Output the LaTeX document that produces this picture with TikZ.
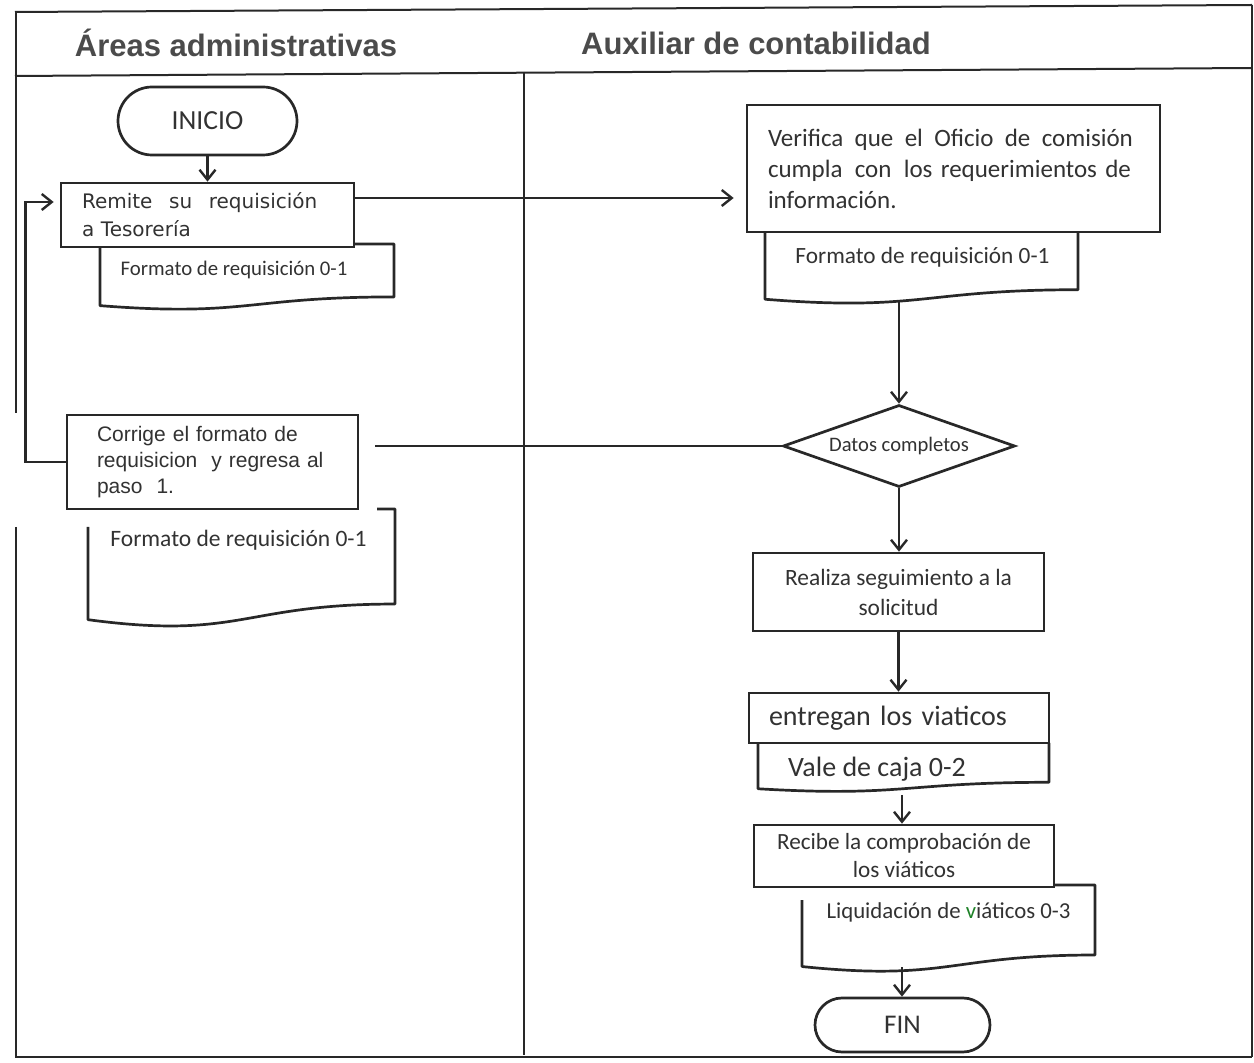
\documentclass[tikz,border=0pt]{standalone}
\usepackage{fontspec}
\setmainfont{Carlito}
\newfontfamily\arialf{Liberation Sans}
\newfontfamily\verdf{DejaVu Sans}
\usetikzlibrary{shapes.geometric,arrows.meta}
\definecolor{linec}{RGB}{40,40,40}
\definecolor{txtc}{RGB}{50,50,50}
\definecolor{hdrc}{RGB}{75,75,75}
\definecolor{greenv}{RGB}{30,130,40}
\newcommand\fsz[2]{\fontsize{#1}{#2}\selectfont}
% #1 L, #2 R, #3 top, #4 h, #5 x where top edge starts, #6 y where left edge ends
\newcommand\docpath[6]{%
  \draw[docline] (#5,#3) -- (#2,#3) -- (#2,{#3+0.802*#4})
    .. controls ({(#1+#2)/2},{#3+0.802*#4}) and ({(#1+#2)/2},{#3+1.107*#4}) ..
    (#1,{#3+0.934*#4}) -- (#1,#6);}
\begin{document}
\begin{tikzpicture}[x=0.5pt,y=-0.5pt,
  frame/.style={draw=linec, line width=1pt},
  hdr/.style={font=\arialf\bfseries\fsz{15.5pt}{18pt}, text=hdrc, inner sep=0pt},
  procbox/.style={rectangle, draw=linec, line width=1.35pt, fill=white, text=txtc},
  term/.style={procbox},
  decision/.style={diamond, draw=linec, line width=1.35pt, fill=white, text=txtc, inner sep=0pt},
  docline/.style={draw=linec, line width=1.35pt, line join=round},
  doctext/.style={text=txtc, inner sep=0pt},
  arr/.style={draw=linec, line width=1.2pt, -{Straight Barb[length=5pt,width=8pt,line width=1.2pt]}},
  conn/.style={draw=linec, line width=1.2pt}]
\useasboundingbox (0,0) rectangle (1254,1063);

% frame
\draw[frame] (15,12) -- (1252,5);
\draw[frame] (15,76) -- (1252,68);
\draw[frame] (15,1057) -- (1252,1057);
\draw[frame] (16,12) -- (16,413);
\draw[frame] (16,527) -- (16,1057);
\draw[frame] (1252,5) -- (1252,1057);
\draw[frame] (524,72) -- (524,1055);

% headers
\node[hdr, anchor=base] (h1) at (236,57) {Áreas administrativas};
\node[hdr, anchor=base] (h2) at (756,55) {Auxiliar de contabilidad};

% documents
\docpath{100}{394}{244}{66}{354}{247}
\docpath{88}{395}{509}{118.5}{377}{527}
\docpath{765}{1078}{232}{72}{1078}{232}
\docpath{758}{1049}{743}{49}{1049}{743}
\docpath{802}{1095}{885}{87.3}{1054}{900}

\node[doctext, font=\fsz{10.4pt}{12pt}] (d1t) at (234,270) {Formato de requisición 0-1};
\node[doctext, font=\fsz{11.75pt}{14pt}] (d2t) at (238.5,540) {Formato de requisición 0-1};
\node[doctext, font=\fsz{11.65pt}{14pt}] (d3t) at (922.5,257) {Formato de requisición 0-1};
\node[doctext, font=\fsz{14pt}{16pt}] (d4t) at (877,769) {Vale de caja 0-2};
\node[doctext, font=\fsz{11.4pt}{14pt}] (d5t) at (948.5,912) {Liquidación de \textcolor{greenv}{v}iáticos 0-3};

% process nodes
\node[term, minimum width=89.5pt, minimum height=34pt, rounded corners=17pt, font=\fsz{13.8pt}{16pt}] (ini) at (207.5,121) {INICIO};

\node[procbox, text width=125.5pt, inner xsep=10.5pt, minimum height=32pt, align=left, font=\verdf\fsz{10pt}{14pt}] (rem) at (207.5,215)
  {Remite\hspace{5pt} su\hspace{5pt} requisición\\a Tesorería};

\node[procbox, text width=115.5pt, inner xsep=15pt, minimum height=47pt, align=left, font=\arialf\fsz{10.5pt}{13pt}] (cor) at (212.5,462)
  {Corrige el formato de\\requisicion\ \ y regresa al\\paso\ \ 1.};

\node[procbox, text width=185.5pt, inner xsep=10.5pt, minimum height=63.5pt, align=left, font=\fsz{12.5pt}{15.5pt}] (ver) at (953.5,168.5)
  {Verifica\hspace{1.5pt} que\hspace{1.5pt} el\hspace{1.5pt} Oficio\hspace{1.5pt} de\hspace{1.5pt} comisión\\cumpla\hspace{2pt} con\hspace{2pt} los requerimientos de\\información.};

\node[decision, aspect=2.83, minimum width=116pt, minimum height=41pt, font=\fsz{10.3pt}{12pt}] (dat) at (899,446) {Datos completos};

\node[procbox, minimum width=145.5pt, minimum height=39pt, align=center, font=\fsz{11.7pt}{15pt}] (rea) at (898.5,592)
  {Realiza seguimiento a la\\solicitud};

\node[procbox, text width=130pt, inner xsep=10pt, minimum height=25pt, align=left, font=\fsz{14pt}{16pt}] (ent) at (899,718)
  {entregan los viaticos};

\node[procbox, minimum width=150pt, minimum height=31pt, align=center, font=\fsz{11.6pt}{14pt}] (rec) at (904,856)
  {Recibe la comprobación de\\los viáticos};

\node[term, minimum width=87.5pt, minimum height=27pt, rounded corners=13.5pt, font=\fsz{13.5pt}{16pt}] (fin) at (902.5,1025) {FIN};

% free connector ends
\coordinate (d3b) at (899,301);
\coordinate (d4b) at (902,795);
\coordinate (d5b) at (902,967);
\coordinate (c1) at (375,446);

% connectors
\draw[arr] (ini.south) -- (rem.north);
\draw[arr, shorten >=6pt] ([yshift=8.5pt]rem.east) -- ([yshift=8.5pt]rem.east -| ver.west);
\draw[arr, shorten >=3pt] (cor.west) -- ++(-40,0) |- ([yshift=6.5pt]rem.west);
\draw[conn] (dat.west) -- (c1);
\draw[arr] (d3b) -- (d3b |- dat.north);
\draw[arr] (dat.south) -- (dat.south |- rea.north);
\draw[arr] (rea.south) -- (rea.south |- ent.north);
\draw[arr] (d4b) -- (d4b |- rec.north);
\draw[arr] (d5b) -- (d5b |- fin.north);
\end{tikzpicture}
\end{document}
